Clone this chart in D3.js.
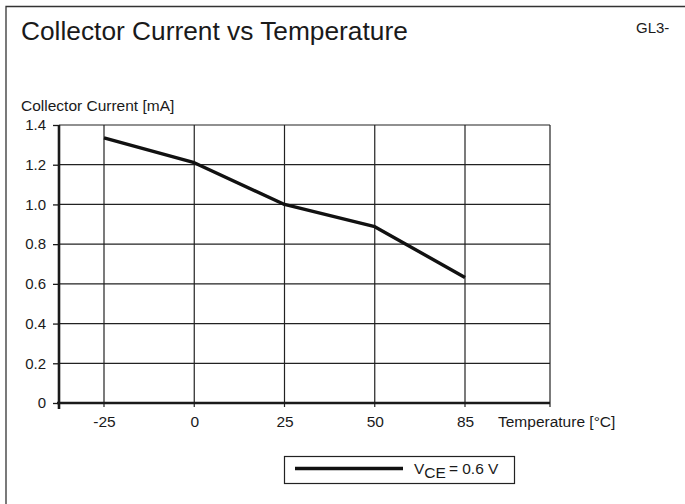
<!DOCTYPE html>
<html><head><meta charset="utf-8">
<script src="https://cdn.jsdelivr.net/npm/d3@7"></script>
<style>body{margin:0;background:#fff;} text{font-family:"Liberation Sans",Arial,sans-serif;fill:#1a1a1a;}</style>
</head><body>
<svg id="c" width="685" height="504"></svg>
<script>
const temperatures = ["-25", "0", "25", "50", "85"];
const collectorCurrent = [1.335, 1.21, 1.0, 0.888, 0.632];
const yTickValues = [0, 0.2, 0.4, 0.6, 0.8, 1.0, 1.2, 1.4];
const seriesLabel = "= 0.6 V";

const svg = d3.select("#c");
const W = 685, H = 504;
const plot = {left: 59, right: 550, top: 125, bottom: 403};
const ink = "#1a1a1a";
const FF = "'Liberation Sans',Arial,sans-serif";

// outer frame (left & top visible)
svg.append("path").attr("d", `M6,${H} V6.5 H${W}`).attr("fill","none").attr("stroke","#333").attr("stroke-width",1.3);

svg.append("text").attr("x",21).attr("y",40).attr("font-size",26.3).text("Collector Current vs Temperature");
svg.append("text").attr("x",636).attr("y",33).attr("font-size",15).text("GL3-");
svg.append("text").attr("x",21).attr("y",111).attr("font-size",15.5).text("Collector Current [mA]");

const x = d3.scalePoint().domain(temperatures).range([104, 465]);
const y = d3.scaleLinear().domain([0, 1.4]).range([plot.bottom, plot.top]);

// horizontal grid
svg.append("g").selectAll("line").data(yTickValues.filter(v=>v>0)).join("line")
  .attr("x1",plot.left).attr("x2",plot.right).attr("y1",d=>y(d)).attr("y2",d=>y(d))
  .attr("stroke","#222").attr("stroke-width",1.2);
// vertical grid
const vx = temperatures.map(t=>x(t)).concat([plot.right]);
svg.append("g").selectAll("line").data(vx).join("line")
  .attr("x1",d=>d).attr("x2",d=>d).attr("y1",plot.top).attr("y2",plot.bottom+4)
  .attr("stroke","#222").attr("stroke-width",1.2);

// y axis
const yAxis = d3.axisLeft(y).tickValues(yTickValues).tickSize(6).tickPadding(7)
  .tickFormat(d => d === 0 ? "0" : d3.format(".1f")(d));
const gy = svg.append("g").attr("transform",`translate(${plot.left},0)`).call(yAxis);
gy.select(".domain").remove();
gy.selectAll(".tick line").attr("stroke",ink).attr("stroke-width",1.3);
gy.selectAll(".tick text").attr("font-size",15).attr("fill",ink).style("font-family",FF);

// x axis
const xAxis = d3.axisBottom(x).tickSize(0).tickPadding(13);
const gx = svg.append("g").attr("transform",`translate(0,${plot.bottom})`).call(xAxis);
gx.select(".domain").remove();
gx.selectAll(".tick text").attr("font-size",15.5).attr("fill",ink).style("font-family",FF);

svg.append("text").attr("x",498).attr("y",427).attr("font-size",15.5).text("Temperature [°C]");

// axis lines
svg.append("line").attr("x1",plot.left).attr("x2",plot.left).attr("y1",plot.top).attr("y2",plot.bottom+6)
  .attr("stroke",ink).attr("stroke-width",2.6);
svg.append("line").attr("x1",plot.left-2).attr("x2",plot.right).attr("y1",plot.bottom).attr("y2",plot.bottom)
  .attr("stroke",ink).attr("stroke-width",2.6);

// data line
const line = d3.line().x((d,i)=>x(temperatures[i])).y(d=>y(d));
svg.append("path").datum(collectorCurrent).attr("d",line).attr("fill","none")
  .attr("stroke","#111").attr("stroke-width",3.4).attr("stroke-linejoin","round");

// legend
const lg = svg.append("g");
lg.append("rect").attr("x",284.5).attr("y",456.5).attr("width",230).attr("height",27)
  .attr("fill","#fff").attr("stroke","#222").attr("stroke-width",1.2);
lg.append("line").attr("x1",295).attr("x2",403).attr("y1",468.5).attr("y2",468.5)
  .attr("stroke","#111").attr("stroke-width",3.4);
const lt = lg.append("text").attr("x",414).attr("y",474).attr("font-size",15.5);
lt.append("tspan").text("V");
lt.append("tspan").attr("dy",4).text("CE");
lt.append("tspan").attr("dy",-4).attr("dx",3).text(seriesLabel);
</script>
</body></html>
